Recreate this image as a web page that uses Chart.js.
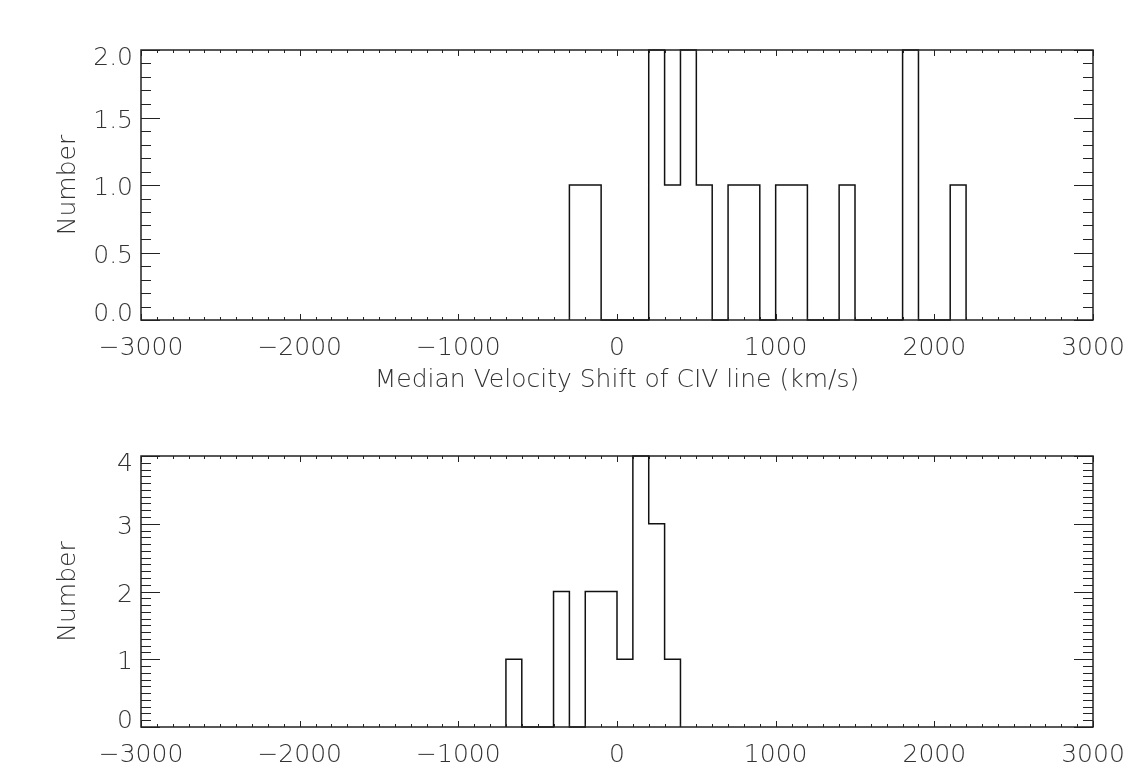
<!DOCTYPE html>
<html>
<head>
<meta charset="utf-8">
<script src="https://cdn.jsdelivr.net/npm/chart.js@4/dist/chart.umd.min.js"></script>
<style>
  html, body { margin: 0; padding: 0; background: #fff; overflow: hidden; }
  #wrap { position: relative; width: 1139px; height: 773px; }
  .panel { position: absolute; left: 0; width: 1139px; }
  #p1 { top: 0; height: 400px; }
  #p2 { top: 400px; height: 402px; }
</style>
</head>
<body>
<div id="wrap">
  <div class="panel" id="p1"><canvas id="c1"></canvas></div>
  <div class="panel" id="p2"><canvas id="c2"></canvas></div>
</div>
<script>
// ---- data ----
const binWidth = 100;

const topBinStarts = [-300, -200, -100, 0, 100, 200, 300, 400, 500, 600, 700, 800, 900, 1000, 1100, 1200, 1300, 1400, 1500, 1600, 1700, 1800, 1900, 2000, 2100];
const topCounts    = [1, 1, 0, 0, 0, 2, 1, 2, 1, 0, 1, 1, 0, 1, 1, 0, 0, 1, 0, 0, 0, 2, 0, 0, 1];

const bottomBinStarts = [-700, -600, -500, -400, -300, -200, -100, 0, 100, 200, 300];
const bottomCounts    = [1, 0, 0, 2, 0, 2, 2, 1, 4, 3, 1];

const xTickValues = [-3000, -2000, -1000, 0, 1000, 2000, 3000];
const xTickLabels = ['\u22123000', '\u22122000', '\u22121000', '0', '1000', '2000', '3000'];

const topYTickValues = [0, 0.5, 1, 1.5, 2];
const topYTickLabels = ['0.0', '0.5', '1.0', '1.5', '2.0'];

const bottomYTickValues = [0, 1, 2, 3, 4];
const bottomYTickLabels = ['0', '1', '2', '3', '4'];

const xTitle = 'Median Velocity Shift of CIV line (km/s)';
const yTitle = 'Number';

// ---- helpers ----
function stepPoints(starts, counts, width) {
  const pts = [{ x: starts[0], y: 0 }];
  starts.forEach((s, i) => pts.push({ x: s, y: counts[i] }));
  pts.push({ x: starts[starts.length - 1] + width, y: 0 });
  return pts;
}
function labelFor(values, labels) {
  return (v) => {
    const i = values.findIndex(t => Math.abs(t - v) < 1e-9);
    return i >= 0 ? labels[i] : '';
  };
}

const FONT = '"DejaVu Sans ExtraLight", "DejaVu Sans", sans-serif';
const FSIZE = 25;
const TXT = '#333';

// IDL-style frame: box on four sides with inward major/minor ticks,
// y labels kept inside the axis range like IDL does
const idlFrame = {
  id: 'idlFrame',
  afterDatasetsDraw(chart, args, o) {
    const { ctx, chartArea: a } = chart;
    const xs = chart.scales.x, ys = chart.scales.y;
    const crisp = v => Math.round(v) + 0.5;
    ctx.save();
    ctx.strokeStyle = o.color;
    ctx.lineWidth = 1;
    ctx.beginPath();
    let n = Math.round((xs.max - xs.min) / o.xMinor);
    let per = Math.round(o.xMajor / o.xMinor);
    for (let i = 0; i <= n; i++) {
      const px = crisp(xs.getPixelForValue(xs.min + i * o.xMinor));
      const len = (i % per === 0) ? o.xMajorLen : o.xMinorLen;
      ctx.moveTo(px, a.bottom); ctx.lineTo(px, a.bottom - len);
      ctx.moveTo(px, a.top); ctx.lineTo(px, a.top + len);
    }
    n = Math.round((ys.max - ys.min) / o.yMinor);
    per = Math.round(o.yMajor / o.yMinor);
    for (let i = 0; i <= n; i++) {
      const py = crisp(ys.getPixelForValue(ys.min + i * o.yMinor));
      const len = (i % per === 0) ? o.yMajorLen : o.yMinorLen;
      ctx.moveTo(a.left, py); ctx.lineTo(a.left + len, py);
      ctx.moveTo(a.right, py); ctx.lineTo(a.right - len, py);
    }
    ctx.stroke();
    ctx.lineWidth = o.boxWidth;
    ctx.strokeRect(a.left, a.top, a.right - a.left, a.bottom - a.top);

    // y tick labels
    ctx.fillStyle = TXT;
    ctx.font = '200 ' + FSIZE + 'px ' + FONT;
    ctx.textAlign = 'right';
    ctx.textBaseline = 'middle';
    o.yValues.forEach((v, i) => {
      let py = ys.getPixelForValue(v) + 3.5;
      py = Math.max(py, a.top + 8.5);
      py = Math.min(py, a.bottom - 5.5);
      ctx.fillText(o.yLabels[i], a.left - 8, py);
    });
    ctx.restore();
  }
};

function makeChart(canvasId, starts, counts, yMax, yStep, yVals, yLabels, yMinor, padTop, padBottom, showXTitle) {
  return new Chart(document.getElementById(canvasId), {
    type: 'line',
    data: {
      datasets: [{
        data: stepPoints(starts, counts, binWidth),
        stepped: 'before',
        borderColor: '#111',
        borderWidth: 1.5,
        pointRadius: 0,
        fill: false,
        clip: 2
      }]
    },
    options: {
      responsive: true,
      maintainAspectRatio: false,
      animation: false,
      devicePixelRatio: 1,
      layout: { padding: { top: padTop, right: 46, left: 0, bottom: padBottom } },
      plugins: {
        legend: { display: false },
        tooltip: { enabled: false },
        idlFrame: {
          color: '#222', boxWidth: 1.5,
          xMajor: 1000, xMinor: 100, xMajorLen: 6, xMinorLen: 3,
          yMajor: yStep, yMinor: yMinor, yMajorLen: 19, yMinorLen: 10,
          yValues: yVals, yLabels: yLabels
        }
      },
      scales: {
        x: {
          type: 'linear',
          min: -3000, max: 3000,
          afterBuildTicks: (s) => { s.ticks = xTickValues.map(v => ({ value: v })); },
          afterFit: (s) => { s.height = 75; },
          grid: { display: false, drawTicks: false },
          border: { display: false },
          ticks: {
            autoSkip: false, maxRotation: 0, padding: 13,
            color: TXT, font: { family: FONT, size: FSIZE, weight: 200 },
            callback: labelFor(xTickValues, xTickLabels)
          },
          title: {
            display: showXTitle, text: xTitle, color: TXT,
            font: { family: FONT, size: FSIZE, weight: 200 },
            padding: { top: 0, bottom: 0 }
          }
        },
        y: {
          type: 'linear',
          min: 0, max: yMax,
          afterBuildTicks: (s) => { s.ticks = yVals.map(v => ({ value: v })); },
          afterFit: (s) => { s.width = 141; },
          grid: { display: false, drawTicks: false },
          border: { display: false },
          ticks: { display: false },
          title: {
            display: true, text: yTitle, color: TXT,
            font: { family: FONT, size: FSIZE, weight: 200 },
            padding: { top: 53, bottom: 0 }
          }
        }
      }
    },
    plugins: [idlFrame]
  });
}

// top panel: plot area 50..320 ; bottom panel: 456..727 (page coords)
makeChart('c1', topBinStarts, topCounts, 2, 0.5, topYTickValues, topYTickLabels, 0.1, 50, 5, true);
makeChart('c2', bottomBinStarts, bottomCounts, 4, 1, bottomYTickValues, bottomYTickLabels, 0.1, 56, 0, false);
</script>
</body>
</html>
